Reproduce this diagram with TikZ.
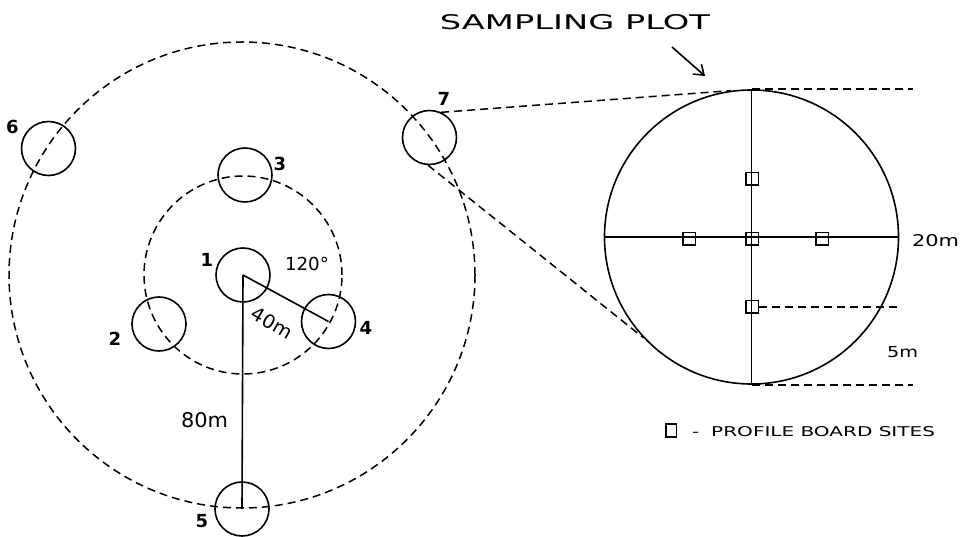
\documentclass[tikz,border=0pt]{standalone}
\usepackage{fontspec}
\setmainfont{DejaVu Sans}
\usepackage{graphicx}
\usetikzlibrary{arrows.meta}
\begin{document}
\begin{tikzpicture}[x=1pt,y=-1pt,
  plotline/.style={line width=1.6pt},
  dashline/.style={line width=1.5pt, dash pattern=on 8pt off 5pt},
  station/.style={circle, draw, line width=1.6pt, minimum size=54pt, inner sep=0pt},
  ring/.style={circle, draw, dashline, inner sep=0pt},
  num/.style={font=\fontsize{18}{18}\selectfont\bfseries, inner sep=0pt},
  lbl/.style={inner sep=0pt},
  site/.style={draw, line width=1.5pt, minimum size=12.5pt, inner sep=0pt}
]
\useasboundingbox (0,0) rectangle (962,537);

% rings
\node[ring, minimum size=466pt] (outer) at (242,275) {};
\node[ring, minimum size=198pt] (inner) at (243,275) {};

% stations
\node[station] (c1) at (243,275) {};
\node[station] (c2) at (159,324) {};
\node[station] (c3) at (245,175) {};
\node[station] (c4) at (328.5,321.5) {};
\node[station] (c5) at (242,509) {};
\node[station] (c6) at (48.5,148.5) {};
\node[station] (c7) at (429.5,137.5) {};

% station numbers
\node[num] (n1) at (207,260) {1};
\node[num] (n2) at (115,339) {2};
\node[num] (n3) at (280,164) {3};
\node[num] (n4) at (366,327.5) {4};
\node[num] (n5) at (202,521.5) {5};
\node[num] (n6) at (12.5,126.5) {6};
\node[num] (n7) at (444,98.5) {7};

% distances
\draw[plotline] (c1.center) -- (c5.center);
\draw[plotline] (c1.center) -- (c4.center);
\node[lbl] (d80) at (204.5,420.5) {\resizebox{47pt}{15pt}{80m}};
\node[lbl, rotate=-30] (d40) at (272,323) {\resizebox{44pt}{14pt}{40m}};
\node[lbl] (ang) at (307,263.5) {\resizebox{44pt}{13.3pt}{120°}};

% sampling plot
\node[circle, draw, line width=1.6pt, minimum size=294pt, inner sep=0pt] (plot) at (751.5,237) {};
\draw[plotline] (plot.north) -- (plot.south);
\draw[plotline] (plot.west) -- (plot.east);
\node[site] (sqc) at (752,239) {};
\node[site] (sqt) at (752,179) {};
\node[site] (sqb) at (752,307) {};
\node[site] (sql) at (689,239) {};
\node[site] (sqr) at (822,239) {};

% tangent lines
\draw[dashline] (c7.65) -- (plot.98);
\draw[dashline] (c7.-93) -- (plot.223);

% dimension lines
\coordinate (tr) at (913,0);
\coordinate (mr) at (899,0);
\draw[dashline] (plot.north) -- (plot.north -| tr);
\draw[dashline] (plot.south) -- (plot.south -| tr);
\draw[dashline] (sqb.east) -- (sqb.east -| mr);
\node[lbl] (d20) at (935.5,241) {\resizebox{47pt}{12pt}{20m}};
\node[lbl] (d5) at (902.5,352.5) {\resizebox{31pt}{11pt}{5m}};

% title and arrow
\node[lbl] (title) at (575,22.5) {\resizebox{270pt}{15pt}{SAMPLING PLOT}};
\coordinate (arrs) at (672,47);
\coordinate (arre) at (705,76);
\draw[plotline, -{Straight Barb[length=9pt,width=13pt]}] (arrs) -- (arre);

% legend
\node[draw, line width=1.5pt, minimum width=10.5pt, minimum height=13pt, inner sep=0pt] (legsq) at (671,430.5) {};
\node[lbl] (legtxt) at (813.5,432) {\resizebox{243pt}{10pt}{-\hspace{0.6em}PROFILE BOARD SITES}};
\end{tikzpicture}
\end{document}
